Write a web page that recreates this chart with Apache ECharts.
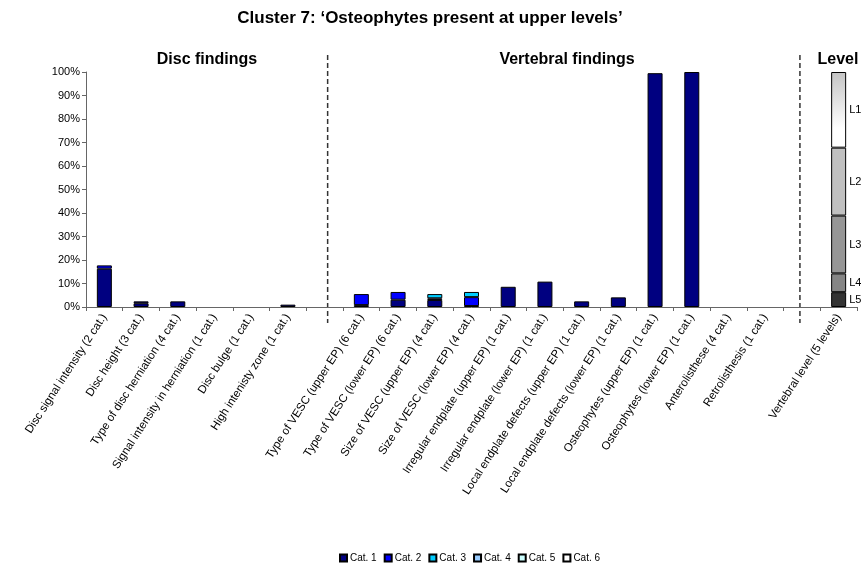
<!DOCTYPE html>
<html>
<head>
<meta charset="utf-8">
<script src="https://cdn.jsdelivr.net/npm/echarts@6/dist/echarts.min.js"></script>
<style>html,body{margin:0;padding:0;background:#fff}#c{width:861px;height:566px}</style>
</head>
<body>
<div id="c"></div>
<script>
const FONT = "'Liberation Sans', Arial, sans-serif";
const chartTitle = "Cluster 7: ‘Osteophytes present at upper levels’";
const sectionTitles = ["Disc findings", "Vertebral findings", "Level"];
const categories = [
  "Disc signal intensity (2 cat.)",
  "Disc height (3 cat.)",
  "Type of disc herniation (4 cat.)",
  "Signal intensity in herniation (1 cat.)",
  "Disc bulge (1 cat.)",
  "High intenisty zone (1 cat.)",
  "",
  "Type of VESC (upper EP) (6 cat.)",
  "Type of VESC (lower EP) (6 cat.)",
  "Size of VESC (upper EP) (4 cat.)",
  "Size of VESC (lower EP) (4 cat.)",
  "Irregular endplate (upper EP) (1 cat.)",
  "Irregular endplate (lower EP) (1 cat.)",
  "Local endplate defects (upper EP) (1 cat.)",
  "Local endplate defects (lower EP) (1 cat.)",
  "Osteophytes (upper EP) (1 cat.)",
  "Osteophytes (lower EP) (1 cat.)",
  "Anterolisthese (4 cat.)",
  "Retrolisthesis (1 cat.)",
  " ",
  "Vertebral level (5 levels)"
];
const catNames = ["Cat. 1", "Cat. 2", "Cat. 3", "Cat. 4", "Cat. 5", "Cat. 6"];
const cat1 = [16.3, 1.6, 2.4, 0, 0, 1.0, 0, 0.8, 3.1, 3.0, 0.4, 8.6, 10.8, 2.4, 4.1, 99.5, 100, 0, 0, 0, 0];
const cat2 = [1.4, 0.8, 0, 0, 0, 0, 0, 4.7, 3.3, 0.7, 3.8, 0, 0, 0, 0, 0, 0, 0, 0, 0, 0];
const cat3 = [0, 0, 0, 0, 0, 0, 0, 0, 0, 1.8, 2.2, 0, 0, 0, 0, 0, 0, 0, 0, 0, 0];
const cat4 = [0, 0, 0, 0, 0, 0, 0, 0, 0, 0, 0, 0, 0, 0, 0, 0, 0, 0, 0, 0, 0];
const cat5 = [0, 0, 0, 0, 0, 0, 0, 0, 0, 0, 0, 0, 0, 0, 0, 0, 0, 0, 0, 0, 0];
const cat6 = [0, 0, 0, 0, 0, 0, 0, 0, 0, 0, 0, 0, 0, 0, 0, 0, 0, 0, 0, 0, 0];
const levelNames = ["L5", "L4", "L3", "L2", "L1"];
const levelValues = [6.3, 8.0, 24.6, 28.9, 32.2];
const levelCategory = "Vertebral level (5 levels)";
const yTicks = [0, 10, 20, 30, 40, 50, 60, 70, 80, 90, 100];

const catColors = ["#000080", "#0000ff", "#00ccff", "#99ccff", "#ccffff", "#ffffff"];
const levelColors = [
  "#333333", "#858585", "#969696", "#c0c0c0",
  {type: 'linear', x: 0, y: 0, x2: 0, y2: 1, colorStops: [
    {offset: 0, color: '#c4c4c4'}, {offset: 0.75, color: '#ffffff'}, {offset: 1, color: '#ffffff'}]}
];

const catData = [cat1, cat2, cat3, cat4, cat5, cat6];
const series = [];
catData.forEach((arr, i) => {
  series.push({
    name: catNames[i], type: 'bar', stack: 'all', barWidth: 15,
    data: arr.map(v => v === 0 ? '-' : v),
    itemStyle: {color: catColors[i], borderColor: '#000', borderWidth: 1},
    emphasis: {disabled: true}
  });
});
const lvlIdx = categories.indexOf(levelCategory);
levelNames.forEach((n, i) => {
  series.push({
    name: n, type: 'bar', stack: 'all', barWidth: 15,
    data: categories.map((c, k) => k === lvlIdx ? levelValues[i] : '-'),
    itemStyle: {color: levelColors[i], borderColor: '#000', borderWidth: 1},
    label: {show: true, position: 'right', distance: 3, formatter: n,
      fontFamily: FONT, fontSize: 11, color: '#000'},
    emphasis: {disabled: true}
  });
});

const chart = echarts.init(document.getElementById('c'), null, {renderer: 'canvas'});
chart.setOption({
  animation: false,
  backgroundColor: '#fff',
  textStyle: {fontFamily: FONT},
  grid: {left: 86, right: 4, top: 72, bottom: 259, containLabel: false},
  legend: {
    data: catNames, left: 334, top: 548, itemWidth: 7, itemHeight: 7, itemGap: 7,
    textStyle: {fontFamily: FONT, fontSize: 10, color: '#000', padding: [0, 0, 0, -2]},
    icon: 'rect'
  },
  xAxis: {
    type: 'category', data: categories,
    axisLine: {lineStyle: {color: '#666', width: 1}},
    axisTick: {show: true, alignWithLabel: false, length: 4, lineStyle: {color: '#666'}},
    axisLabel: {interval: 0, rotate: 57, fontFamily: FONT, fontSize: 11.5, color: '#000', margin: 8}
  },
  yAxis: {
    type: 'value', min: yTicks[0], max: yTicks[yTicks.length - 1], interval: 10,
    axisLine: {show: true, lineStyle: {color: '#666', width: 1}},
    axisTick: {show: true, length: 4, lineStyle: {color: '#666'}},
    splitLine: {show: false},
    axisLabel: {formatter: '{value}%', fontFamily: FONT, fontSize: 11, color: '#000', margin: 6}
  },
  series: series
});

const p0 = chart.convertToPixel({gridIndex: 0}, [6, 0]);
const p1 = chart.convertToPixel({gridIndex: 0}, [19, 100]);
const yTop = p1[1] - 17, yBot = p0[1] + 16;
chart.setOption({
  graphic: [
    {type: 'text', x: 430, y: 18, style: {text: chartTitle, font: 'bold 17px ' + FONT, fill: '#000', align: 'center', verticalAlign: 'middle'}},
    {type: 'text', x: 207, y: 60, style: {text: sectionTitles[0], font: 'bold 16px ' + FONT, fill: '#000', align: 'center', verticalAlign: 'middle'}},
    {type: 'text', x: 567, y: 60, style: {text: sectionTitles[1], font: 'bold 16px ' + FONT, fill: '#000', align: 'center', verticalAlign: 'middle'}},
    {type: 'text', x: 838, y: 60, style: {text: sectionTitles[2], font: 'bold 16px ' + FONT, fill: '#000', align: 'center', verticalAlign: 'middle'}},
    {type: 'line', shape: {x1: p0[0] + 3, y1: yTop, x2: p0[0] + 3, y2: yBot}, style: {stroke: '#333', lineWidth: 1.5, lineDash: [5, 3]}},
    {type: 'line', shape: {x1: p1[0] - 2, y1: yTop, x2: p1[0] - 2, y2: yBot}, style: {stroke: '#333', lineWidth: 1.5, lineDash: [5, 3]}}
  ]
});
</script>
</body>
</html>
